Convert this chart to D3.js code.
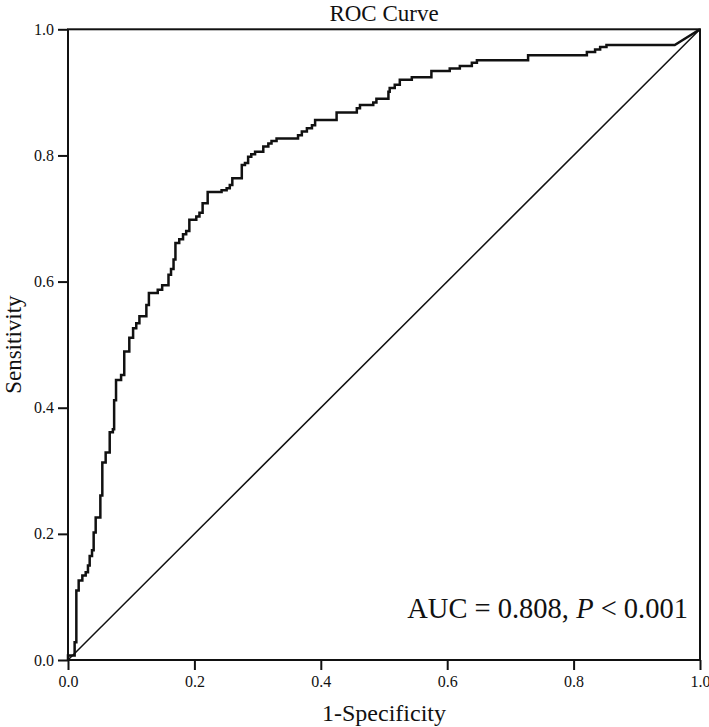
<!DOCTYPE html>
<html>
<head>
<meta charset="utf-8">
<script src="https://cdn.jsdelivr.net/npm/d3@7"></script>
<style>
  body { margin: 0; background: #fff; }
  text { font-family: "Liberation Serif", "Times New Roman", serif; fill: #111; }
</style>
</head>
<body>
<div id="chart"></div>
<script>
// ROC vertices (1-specificity, sensitivity)
const fpr = [0, 0, .0105, .0105, .0132, .0132, .0169, .0169, .0227, .0227, .028, .028,
  .0316, .0316, .0343, .0343, .038, .038, .0406, .0406, .0438, .0438, .0512, .0512,
  .0543, .0543, .0596, .0596, .066, .066, .071, .071, .073, .073, .076, .076, .084, .084,
  .089, .089, .097, .097, .103, .103, .108, .108, .113, .113, .124, .124, .128, .128,
  .142, .142, .149, .149, .159, .159, .163, .163, .167, .167, .170, .170, .176, .176,
  .182, .182, .187, .187, .192, .192, .203, .203, .208, .208, .213, .213, .221, .221,
  .243, .243, .251, .251, .256, .256, .260, .260, .275, .275, .280, .280, .285, .285,
  .290, .290, .296, .296, .309, .309, .317, .317, .322, .322, .330, .330, .364, .364,
  .370, .370, .378, .378, .386, .386, .391, .391, .425, .425, .457, .457, .462, .462,
  .483, .483, .488, .488, .507, .507, .509, .509, .517, .517, .525, .525, .544, .544,
  .575, .575, .604, .604, .620, .620, .639, .639, .647, .647, .728, .728, .821, .821,
  .834, .834, .842, .842, .852, .852, .960, 1];
const tpr = [0, .007, .007, .028, .028, .110, .110, .126, .126, .134, .134, .139,
  .139, .150, .150, .165, .165, .174, .174, .202, .202, .226, .226, .261,
  .261, .313, .313, .329, .329, .361, .361, .366, .366, .412, .412, .444, .444, .452,
  .452, .489, .489, .511, .511, .526, .526, .534, .534, .545, .545, .563, .563, .582,
  .582, .587, .587, .594, .594, .611, .611, .620, .620, .635, .635, .661, .661, .667,
  .667, .675, .675, .680, .680, .698, .698, .703, .703, .709, .709, .724, .724, .742,
  .742, .745, .745, .748, .748, .753, .753, .764, .764, .785, .785, .788, .788, .798,
  .798, .802, .802, .806, .806, .814, .814, .819, .819, .823, .823, .827, .827, .832,
  .832, .838, .838, .843, .843, .848, .848, .856, .856, .868, .868, .875, .875, .880,
  .880, .884, .884, .890, .890, .901, .901, .907, .907, .912, .912, .920, .920, .924,
  .924, .934, .934, .938, .938, .942, .942, .947, .947, .951, .951, .959, .959, .964,
  .964, .968, .968, .972, .972, .975, .975, 1];
const refLine = [[0, 0], [1, 1]];
const ticks = [0, .2, .4, .6, .8, 1];
const titleText = "ROC Curve";
const xLabel = "1-Specificity";
const yLabel = "Sensitivity";

const width = 709, height = 727;
const plotL = 68, plotR = 700, plotT = 29.3, plotB = 660;

const svg = d3.select("#chart").append("svg")
  .attr("width", width)
  .attr("height", height);

const x = d3.scaleLinear().domain([0, 1]).range([plotL, plotR]);
const y = d3.scaleLinear().domain([0, 1]).range([plotB, plotT]);

// axes
const xAxis = svg.append("g")
  .attr("transform", `translate(0,${plotB})`)
  .call(d3.axisBottom(x).tickValues(ticks).tickFormat(d3.format(".1f")).tickSize(10).tickPadding(6));
const yAxis = svg.append("g")
  .attr("transform", `translate(${plotL},0)`)
  .call(d3.axisLeft(y).tickValues(ticks).tickFormat(d3.format(".1f")).tickSize(10).tickPadding(4));

[xAxis, yAxis].forEach(g => {
  g.select(".domain").remove();
  g.selectAll("line").attr("stroke", "#111").attr("stroke-width", 2);
  g.selectAll("text").style("font-size", "16px").style("font-family", "Liberation Serif").attr("fill", "#111");
});

// frame
svg.append("rect")
  .attr("x", plotL)
  .attr("y", plotT)
  .attr("width", plotR - plotL)
  .attr("height", plotB - plotT)
  .attr("fill", "none")
  .attr("stroke", "#111")
  .attr("stroke-width", 2);

// reference diagonal
svg.append("path")
  .datum(refLine)
  .attr("d", d3.line().x(d => x(d[0])).y(d => y(d[1])))
  .attr("fill", "none")
  .attr("stroke", "#111")
  .attr("stroke-width", 1.5);

// roc curve
const rocData = fpr.map((f, i) => [f, tpr[i]]);
svg.append("path")
  .datum(rocData)
  .attr("d", d3.line().x(d => x(d[0])).y(d => y(d[1])))
  .attr("fill", "none")
  .attr("stroke", "#111")
  .attr("stroke-width", 2.5)
  .attr("stroke-linejoin", "miter");

// titles
svg.append("text")
  .attr("x", (plotL + plotR) / 2)
  .attr("y", 21)
  .attr("text-anchor", "middle")
  .style("font-size", "23px")
  .text(titleText);

svg.append("text")
  .attr("x", (plotL + plotR) / 2)
  .attr("y", 721)
  .attr("text-anchor", "middle")
  .style("font-size", "24px")
  .text(xLabel);

svg.append("text")
  .attr("transform", `translate(21,${(plotT + plotB) / 2}) rotate(-90)`)
  .attr("text-anchor", "middle")
  .style("font-size", "23px")
  .text(yLabel);

// AUC annotation
const auc = svg.append("text")
  .attr("x", 688)
  .attr("y", 618)
  .attr("text-anchor", "end")
  .style("font-size", "28.5px");
auc.append("tspan").text("AUC = 0.808, ");
auc.append("tspan").style("font-style", "italic").text("P");
auc.append("tspan").text(" < 0.001");
</script>
</body>
</html>
